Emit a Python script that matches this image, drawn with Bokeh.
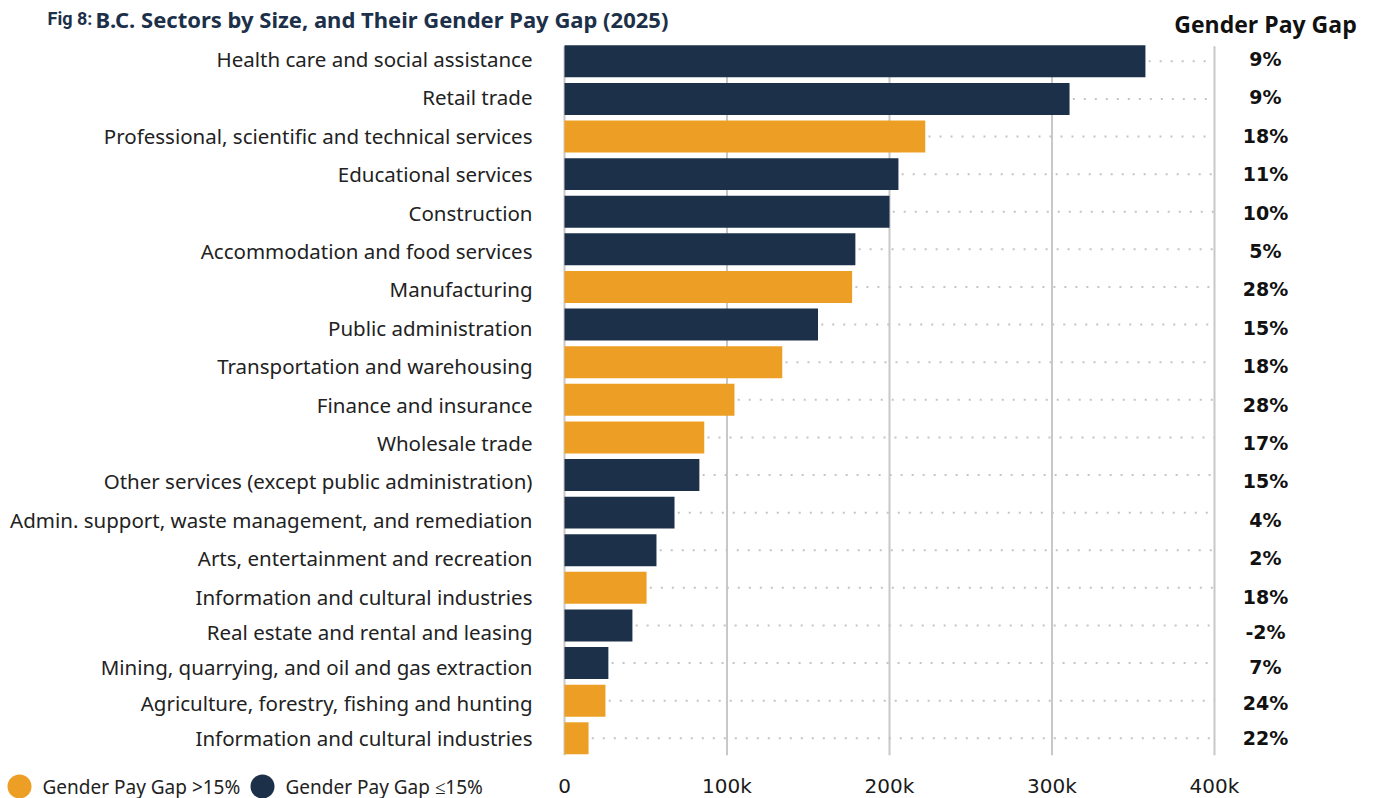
from bokeh.plotting import figure
from bokeh.models import Range1d, ColumnDataSource
from bokeh.embed import file_html
from bokeh.resources import INLINE
from bokeh.core.properties import value

# ---------------- data ----------------
sectors = [
    "Health care and social assistance",
    "Retail trade",
    "Professional, scientific and technical services",
    "Educational services",
    "Construction",
    "Accommodation and food services",
    "Manufacturing",
    "Public administration",
    "Transportation and warehousing",
    "Finance and insurance",
    "Wholesale trade",
    "Other services (except public administration)",
    "Admin. support, waste management, and remediation",
    "Arts, entertainment and recreation",
    "Information and cultural industries",
    "Real estate and rental and leasing",
    "Mining, quarrying, and oil and gas extraction",
    "Agriculture, forestry, fishing and hunting",
    "Information and cultural industries",
]
employment = [357500, 310800, 222000, 205500, 200000, 179000, 177000, 156000, 134000,
              104600, 86000, 83000, 67700, 56600, 50500, 41800, 27000, 25200, 14800]
pay_gap = [9, 9, 18, 11, 10, 5, 28, 15, 18, 28, 17, 15, 4, 2, 18, -2, 7, 24, 22]

tick_values = [0, 100000, 200000, 300000, 400000]
tick_labels = ["0", "100k", "200k", "300k", "400k"]
title_prefix = "Fig 8:"
title_text = "B.C. Sectors by Size, and Their Gender Pay Gap (2025)"
gap_header = "Gender Pay Gap"
legend_labels = ["Gender Pay Gap >15%", "Gender Pay Gap \u226415%"]
gap_threshold = 15

ORANGE = "#ed9f25"
NAVY = "#1c3049"

# ---------------- layout (canvas pixels) ----------------
W, H = 1376, 798
FRAME_LEFT = 564          # pixel of value 0
PX_PER_UNIT = 1.625 / 1000
BAND_TOP = 42             # pixel of top of first band
BAND = 37.61              # pixels per bar row
LABEL_TOP, LABEL_PITCH = 58.5, 38.4      # text rows of the label column
LABEL_SPLIT, LABEL_PITCH_LOW = 14, 35.4  # the last rows are set tighter


def vx(px):               # canvas px -> data x
    return (px - FRAME_LEFT) / PX_PER_UNIT


def vy(py):               # canvas px -> data y (row units)
    return (py - BAND_TOP) / BAND - 0.5


def label_px(i):
    if i <= LABEL_SPLIT:
        return LABEL_TOP + LABEL_PITCH * i
    return LABEL_TOP + LABEL_PITCH * LABEL_SPLIT + LABEL_PITCH_LOW * (i - LABEL_SPLIT)


n = len(sectors)
idx = list(range(n))
colors = [ORANGE if g > gap_threshold else NAVY for g in pay_gap]
gap_text = [f"{g}%" for g in pay_gap]
dot_start = [v + 2000 for v in employment]
grid_max = tick_values[-1]
label_y = [vy(label_px(i)) for i in idx]

src = ColumnDataSource(dict(y=idx, ly=label_y, v=employment, c=colors, gap=gap_text,
                            name=sectors, d0=dot_start, d1=[grid_max] * n))

p = figure(width=W, height=H, output_backend="svg", toolbar_location=None,
           x_range=Range1d(vx(0), vx(W)), y_range=Range1d(vy(H), vy(0)),
           min_border=0, background_fill_color="white", border_fill_color="white")
p.outline_line_color = None
p.axis.visible = False
p.grid.visible = False

# vertical gridlines
p.segment(x0=tick_values, x1=tick_values, y0=[-0.4] * len(tick_values),
          y1=[n - 0.55] * len(tick_values), line_color="#c8c8c8", line_width=2)

# dotted leaders
p.segment(x0="d0", x1="d1", y0="y", y1="y", source=src, line_color="#c4c4c4",
          line_width=2, line_dash="2 9")

# bars
p.hbar(y="y", left=0, right="v", height=0.85, fill_color="c", line_color=None, source=src)

# category labels
p.text(x=vx(532), y="ly", text="name", source=src, text_align="right", text_baseline="middle",
       text_font=value("Noto Sans"), text_font_size="20.5px", text_color="#222222")

# x tick labels
p.text(x=tick_values, y=[vy(785)] * len(tick_values), text=tick_labels, text_align="center",
       text_baseline="middle", text_font=value("DejaVu Sans"), text_font_size="20px",
       text_color="#1a1a1a")

# gap labels
gx = vx(1265)
p.text(x=gx, y="ly", text="gap", source=src, text_align="center", text_baseline="middle",
       text_font=value("DejaVu Sans"), text_font_style="bold", text_font_size="19px",
       text_color="#111111")

# header
p.text(x=[gx], y=[vy(23)], text=[gap_header], text_align="center", text_baseline="middle",
       text_font=value("Open Sans"), text_font_style="bold", text_font_size="23px",
       text_color="#111111")

# title
p.text(x=[vx(47)], y=[vy(18)], text=[title_prefix], text_align="left",
       text_baseline="alphabetic", text_font=value("Roboto"),
       text_font_style="bold", text_font_size="18px", text_color=NAVY)
p.text(x=[vx(95)], y=[vy(18)], text=[title_text], text_align="left",
       text_baseline="alphabetic", text_font=value("Noto Sans"),
       text_font_style="bold", text_font_size="22px", text_color=NAVY)

# legend
leg_y = vy(786)
p.scatter(x=[vx(19), vx(262)], y=[leg_y, leg_y], marker="circle", size=24,
          fill_color=[ORANGE, NAVY], line_color=None)
p.text(x=[vx(42), vx(285)], y=[leg_y, leg_y], text=legend_labels, text_align="left",
       text_baseline="middle", text_font=value("Noto Sans"), text_font_size="19px",
       text_color="#222222")

open("out.html", "w").write(file_html(p, INLINE))
